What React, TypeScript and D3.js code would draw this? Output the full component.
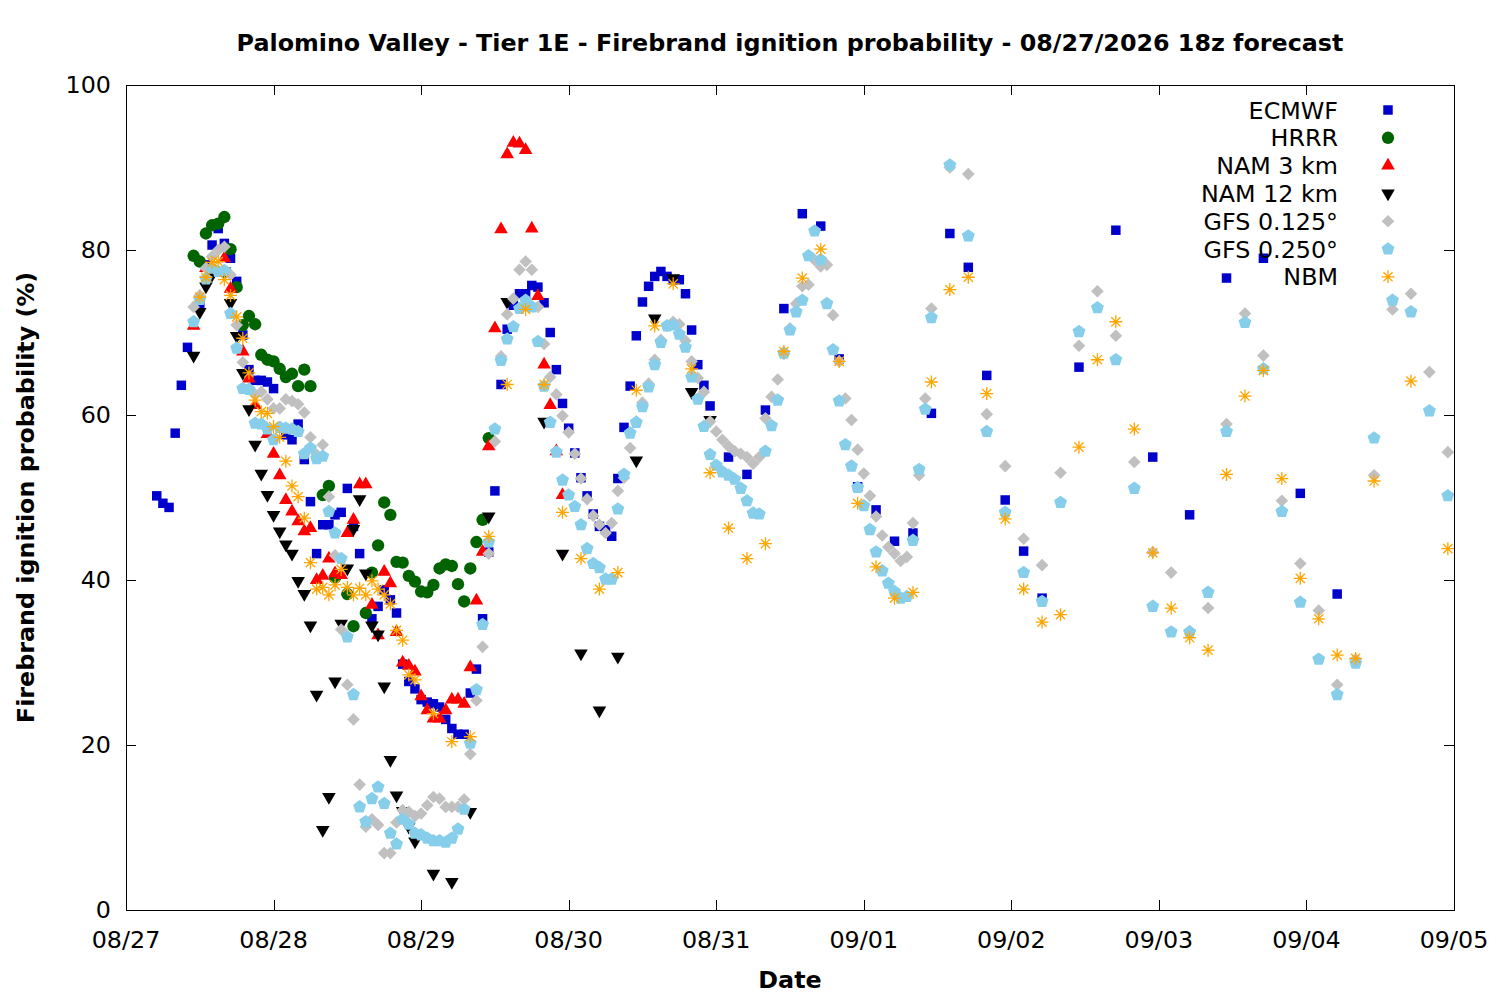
import { useEffect, useRef } from "react";
import * as d3 from "d3";

const title =
  "Palomino Valley - Tier 1E - Firebrand ignition probability - 08/27/2026 18z forecast";
const startDate = Date.UTC(2026, 7, 27);
const endDate = Date.UTC(2026, 8, 5);
const yTicks = [0, 20, 40, 60, 80, 100];

// hours after 08/27 00, values in %
const ecmwfHours = [...d3.range(5, 96), ...d3.range(98, 150, 3), ...d3.range(155, 198, 6)];
const ecmwfValues = [
  50.2, 49.3, 48.8, 57.8, 63.6, 68.2, null, 73.1, 78.2, 80.6, // h5
  82.6, 80.8, 79, 76.2, 69.7, 65.5, 64.2, 64.2, 64, 63.2, // h15
  null, 57.6, 57, 58.9, 54.6, 49.5, 43.2, 46.7, 46.7, 47.9, // h25
  48.2, 51.1, 46.5, 43.2, null, 35.3, 36.8, 38.8, 37.6, 36, // h35
  29.8, 27.7, 26.8, 25.5, 25.2, 25, 24.6, 23.1, 22, 21.3, // h45
  21.3, 26.3, 29.2, 35.3, 43.4, 50.8, 63.7, 70.4, 73.3, 74.7, // h55
  74.7, 75.7, 75.5, 73.6, 70, 65.5, 61.4, 58.4, 55.4, 52.4, // h65
  50.2, 48, 46.5, 46.1, 45.3, 52.3, 58.5, 63.5, 69.6, 73.7, // h75
  75.6, 76.8, 77.4, 76.8, 76.4, 76.4, 74.7, 70.3, 66.1, 63.6, // h85
  61.1, // h95
  54.9, 52.8, 60.6, 72.9, 84.4, 82.9, 66.8, 51.3, 48.5, 44.7,
  45.7, 60.2, 82, 77.9, 64.8, 49.7, 43.5, 37.8,
  65.8, 82.4, 54.9, 47.9, 76.6, 79, 50.5, 38.3,
];

const hrrrHours = d3.range(11, 60);
const hrrrValues = [
  79.3, 78.6, 82, 83, 83.2, 84, 80.1, 75.5, 70.9, 72, // h11
  71, 67.3, 66.7, 66.5, 65.6, 64.6, 65, 63.5, 65.5, 63.5, // h21
  null, 50.3, 51.4, 40.3, null, 38.3, 34.4, null, 36, 40.9, // h31
  44.2, 49.4, 47.9, 42.2, 42.1, 40.5, 39.8, 38.6, 38.5, 39.4, // h41
  41.4, 41.9, 41.7, 39.5, 37.4, 41.4, 44.6, 47.3, 57.2, // h51
];

const nam3Hours = d3.range(11, 72);
const nam3Values = [
  70.8, null, 77.8, null, null, 79, 75.3, null, 67.7, 64.4, // h11
  61.2, null, 57.7, 55.3, 52.7, 49.7, 48.3, 47.1, 45.9, 46.3, // h21
  40, 40.5, 42.6, 40.8, 40.6, 45.7, 47.3, 51.6, 51.6, 37, // h31
  33.3, 41, 39.6, 33.7, 30, 29.6, 28.9, 25.9, 24.2, 23.2, // h41
  23.2, 24.2, 25.5, 25.5, 25, 29.4, 37.5, 43.4, 56.2, 70.5, // h51
  82.5, 91.6, 93, 92.9, 92.1, 82.6, 74.4, 66.1, 61.2, 55.6, // h61
  50.3, // h71
];

const nam12Hours = [...d3.range(11, 48), ...d3.range(50, 96, 3)];
const nam12Values = [
  67.2, 72.5, 75.6, 77, null, 77.4, 73.6, 69.6, 65.1, 60.7, // h11
  56.4, 52.9, 50.3, 47.9, 45.9, 44.3, 43.2, 39.9, 38.3, 34.5, // h21
  26.1, 9.7, 13.7, 27.7, 34.7, 41.4, 46.2, 49.8, 40.8, 34.5, // h31
  33.4, 27.1, 18.2, 13.9, 12, 10.1, 8.3, // h41
  4.4, 3.4, 11.9, 47.7, 73.7, null, 59.2, 43.2, 31.1, 24.2,
  30.7, 54.5, 71.7, 76.6, 62.8, 59.4,
];

const gfs125Hours = [...d3.range(11, 132), ...d3.range(134, 216, 3)];
const gfs125Values = [
  73.1, 74.5, 77.8, 79.2, 80, 80.4, 77, 70.9, 66.4, 63.1, // h11
  62.5, 62.8, 61.9, 60.8, 60.8, 61.9, 61.7, 61.3, 60.3, 57.3, // h21
  55.2, 56.4, 50.1, 43, 34, 27.3, 23.1, 15.2, 10.1, 11, // h31
  10.3, 6.9, 6.9, 10.6, 12.1, 11.9, 11.4, 11.7, 12.7, 13.7, // h41
  13.5, 12.5, 12.5, 12.5, 13.4, 18.9, 25.4, 31.9, 43.2, 56.8, // h51
  67.1, 72.2, 74.1, 77.6, 78.6, 77.6, 73.1, 68.6, 64.6, 62.5, // h61
  59.9, 57.9, 55.3, 52.3, 49.8, 47.8, 46.7, 45.7, 46.9, 50.8, // h71
  52.4, 56, 59.2, 61.5, 63.8, 66.7, 69.1, 70.8, 71.3, 71, // h81
  69, 66.5, 64.5, 62.8, 59.2, 58, 57, 56.2, 55.6, 55.3, // h91
  54.9, 54.1, 54.9, 59.6, 62.2, 64.3, 67.4, 70.5, 73.5, 75.6, // h101
  75.8, 78.8, 78, 78.2, 72.1, 66.5, 62, 59.4, 55.8, 52.9, // h111
  50.2, 47.7, 45.4, 44, 43.2, 42.3, 42.8, 46.9, 52.7, 62, // h121
  72.9, // h131
  90, 89.2, 60.1, 53.8, 45, 41.8, 53, 68.4, 75, 69.6,
  54.3, 43.4, 40.9, 33.8, 36.6, 58.9, 72.3, 67.2, 49.6, 42,
  36.3, 27.3, 30.4, 52.7, 72.8, 74.7, 65.2, 55.5,
];

const gfs250Hours = [...d3.range(11, 132), ...d3.range(134, 216, 3)];
const gfs250Values = [
  71.3, 74, 76.5, 77.8, 77.4, 77.5, 72.3, 68.1, 63.2, 63.1, // h11
  59, 58.9, 58.3, 57, 58.5, 58.4, 58.3, 58, 55.3, 56, // h21
  54.7, 55, 48.3, 45.7, 42.6, 33.1, 26.1, 12.5, 10.7, 13.5, // h31
  14.9, 12.9, 9.3, 8, 11, 10.4, 9.3, 9.1, 8.7, 8.4, // h41
  8.4, 8.2, 8.7, 9.8, 12.2, 20.2, 26.7, 34.6, 44.6, 58.3, // h51
  66.6, 69.2, 70.7, 72.9, 73.9, 73.1, 68.9, 63.5, 59.1, 55.5, // h61
  52.1, 50.3, 48.9, 46.7, 43.8, 42, 41.5, 40.1, 40.1, 48.6, // h71
  52.8, 57.8, 59.1, 61, 63.4, 66.1, 68.8, 70.8, 70.9, 69.8, // h81
  68.2, 64.6, 61.9, 58.6, 55.2, 53.9, 53.1, 52.7, 52.2, 51.1, // h91
  49.6, 48.1, 48, 55.6, 58.7, 61.8, 67.5, 70.3, 72.5, 73.9, // h101
  79.3, 82.3, 78.8, 73.5, 67.9, 61.7, 56.4, 53.8, 51.2, 49, // h111
  46.1, 43.4, 41.1, 39.6, 38.6, 37.8, 38, 44.8, 53.4, 60.7, // h121
  71.8, // h131
  90.3, 81.7, 58, 48.2, 40.9, 37.4, 49.4, 70.1, 73, 66.7,
  51.1, 36.8, 33.7, 33.7, 38.5, 58, 71.2, 65.6, 48.3, 37.3,
  30.4, 26.1, 29.9, 57.2, 73.9, 72.5, 60.5, 50.2,
];

const nbmHours = [...d3.range(12, 48), ...d3.range(50, 204, 3), 209, 215];
const nbmValues = [
  74.3, 76.7, 78.5, 78.6, 76.4, 74.5, 71.9, 69.3, 65.1, 61.8, // h12
  60.4, 60.2, 58.6, 57.3, 54.4, 51.4, 50.1, 47.5, 42.1, 38.9, // h22
  39.1, 38.2, 39.4, 41.3, 39.1, 38.2, 39, 38.2, 39.9, 38.9, // h32
  38.2, 37.1, 33.9, 32.7, 28.5, 27.9, // h42
  23.8, 20.4, 21, 45.3, 63.7, 72.8, 63.7, 48.2, 42.6, 38.9,
  40.9, 63, 70.8, 75.9, 65.6, 53, 46.3, 42.6, 44.4, 67.7,
  76.6, 80.1, 66.5, 49.3, 41.6, 37.8, 38.5, 64, 75.2, 76.7,
  62.6, 47.4, 38.9, 34.9, 35.8, 56.1, 66.7, 71.3, 58.3, 43.3,
  36.6, 33, 31.5, 52.8, 62.3, 65.4, 52.3, 40.2, 35.3, 30.9,
  30.5, 52,
  64.1, 43.8,
];

const series = [
  { name: "ECMWF", hours: ecmwfHours, values: ecmwfValues, color: "#0000cd", shape: "square" },
  { name: "HRRR", hours: hrrrHours, values: hrrrValues, color: "#006400", shape: "circle" },
  { name: "NAM 3 km", hours: nam3Hours, values: nam3Values, color: "#ff0000", shape: "triUp" },
  { name: "NAM 12 km", hours: nam12Hours, values: nam12Values, color: "#000000", shape: "triDown" },
  { name: "GFS 0.125°", hours: gfs125Hours, values: gfs125Values, color: "#c0c0c0", shape: "diamond" },
  { name: "GFS 0.250°", hours: gfs250Hours, values: gfs250Values, color: "#87ceeb", shape: "pentagon" },
  { name: "NBM", hours: nbmHours, values: nbmValues, color: "#ffa500", shape: "asterisk" },
];

const W = 1500;
const H = 1000;
const margin = { left: 126, right: 46, top: 85, bottom: 90 };
const font = "DejaVu Sans, sans-serif";
const fontSize = 23.8;

function shapePath(shape: string): string {
  switch (shape) {
    case "square":
      return d3.symbol(d3.symbolSquare, 90)()!;
    case "circle":
      return d3.symbol(d3.symbolCircle, 120)()!;
    case "triUp":
    case "triDown":
      return d3.symbol(d3.symbolTriangle, 80)()!;
    case "diamond":
      return d3.symbol(d3.symbolSquare, 80)()!;
    case "pentagon": {
      const r = 6.8;
      const pts = d3.range(5).map((k) => {
        const a = -Math.PI / 2 + (k * 2 * Math.PI) / 5;
        return [r * Math.cos(a), r * Math.sin(a)];
      });
      return "M" + pts.map((p) => p.join(",")).join("L") + "Z";
    }
    default: {
      const r = 6.5;
      const a = r * Math.SQRT1_2;
      return `M${-r},0L${r},0M0,${-r}L0,${r}M${-a},${-a}L${a},${a}M${-a},${a}L${a},${-a}`;
    }
  }
}

function rotation(shape: string): number {
  if (shape === "triDown") return 180;
  if (shape === "diamond") return 45;
  return 0;
}

const App = () => {
  const svgRef = useRef<SVGSVGElement | null>(null);

  useEffect(() => {
    if (!svgRef.current) return;
    const svg = d3.select(svgRef.current);
    svg.selectAll("*").remove();

    const x = d3
      .scaleUtc()
      .domain([startDate, endDate])
      .range([margin.left, W - margin.right]);
    const y = d3
      .scaleLinear()
      .domain([0, 100])
      .range([H - margin.bottom, margin.top]);

    const x0 = margin.left;
    const x1 = W - margin.right;
    const y0 = H - margin.bottom;
    const y1 = margin.top;
    const tickLen = 10;

    svg.append("rect").attr("width", W).attr("height", H).attr("fill", "#fff");

    // ticks
    const dayTicks = d3.utcDay.range(new Date(startDate), new Date(endDate + 1));
    const fmt = d3.utcFormat("%m/%d");
    const axes = svg.append("g").attr("stroke", "#000").attr("stroke-width", 1);
    dayTicks.forEach((d) => {
      const xx = Math.round(x(d)) + 0.5;
      axes.append("line").attr("x1", xx).attr("x2", xx).attr("y1", y0).attr("y2", y0 - tickLen);
      axes.append("line").attr("x1", xx).attr("x2", xx).attr("y1", y1).attr("y2", y1 + tickLen);
    });
    yTicks.forEach((v) => {
      const yy = Math.round(y(v)) + 0.5;
      axes.append("line").attr("x1", x0).attr("x2", x0 + tickLen).attr("y1", yy).attr("y2", yy);
      axes.append("line").attr("x1", x1).attr("x2", x1 - tickLen).attr("y1", yy).attr("y2", yy);
    });

    svg
      .append("g")
      .selectAll("text")
      .data(dayTicks)
      .enter()
      .append("text")
      .attr("x", (d) => x(d))
      .attr("y", y0 + 38)
      .attr("text-anchor", "middle")
      .attr("font-family", font)
      .attr("font-size", fontSize)
      .text((d) => fmt(d));

    svg
      .append("g")
      .selectAll("text")
      .data(yTicks)
      .enter()
      .append("text")
      .attr("x", x0 - 15)
      .attr("y", (d) => y(d) + 8)
      .attr("text-anchor", "end")
      .attr("font-family", font)
      .attr("font-size", fontSize)
      .text((d) => d);

    // points, drawn in legend order
    series.forEach((s) => {
      const pts = s.hours
        .map((h, i) => ({ t: startDate + h * 3600 * 1000, v: s.values[i] }))
        .filter((p) => p.v !== null && p.v !== undefined);
      const path = shapePath(s.shape);
      const rot = rotation(s.shape);
      const isLine = s.shape === "asterisk";
      svg
        .append("g")
        .selectAll("path")
        .data(pts)
        .enter()
        .append("path")
        .attr("d", path)
        .attr("transform", (p) => `translate(${x(p.t)},${y(p.v as number)}) rotate(${rot})`)
        .attr("fill", isLine ? "none" : s.color)
        .attr("stroke", isLine ? s.color : "none")
        .attr("stroke-width", isLine ? 1.3 : 0);
    });

    // frame
    svg
      .append("rect")
      .attr("x", x0 + 0.5)
      .attr("y", y1 + 0.5)
      .attr("width", x1 - x0)
      .attr("height", y0 - y1)
      .attr("fill", "none")
      .attr("stroke", "#000")
      .attr("stroke-width", 1);

    // legend
    const legend = svg.append("g");
    series.forEach((s, i) => {
      const ly = 110 + i * 27.8;
      legend
        .append("text")
        .attr("x", 1338)
        .attr("y", ly + 8.5)
        .attr("text-anchor", "end")
        .attr("font-family", font)
        .attr("font-size", fontSize)
        .text(s.name);
      const isLine = s.shape === "asterisk";
      legend
        .append("path")
        .attr("d", shapePath(s.shape))
        .attr("transform", `translate(1388,${ly}) rotate(${rotation(s.shape)})`)
        .attr("fill", isLine ? "none" : s.color)
        .attr("stroke", isLine ? s.color : "none")
        .attr("stroke-width", isLine ? 1.3 : 0);
    });

    // titles
    svg
      .append("text")
      .attr("x", (x0 + x1) / 2)
      .attr("y", 51)
      .attr("text-anchor", "middle")
      .attr("font-family", font)
      .attr("font-weight", "bold")
      .attr("font-size", fontSize)
      .text(title);

    svg
      .append("text")
      .attr("x", (x0 + x1) / 2)
      .attr("y", 988)
      .attr("text-anchor", "middle")
      .attr("font-family", font)
      .attr("font-weight", "bold")
      .attr("font-size", fontSize)
      .text("Date");

    svg
      .append("text")
      .attr("transform", `translate(34,${(y0 + y1) / 2}) rotate(-90)`)
      .attr("text-anchor", "middle")
      .attr("font-family", font)
      .attr("font-weight", "bold")
      .attr("font-size", fontSize)
      .text("Firebrand ignition probability (%)");
  }, []);

  return (
    <svg
      ref={svgRef}
      width={W}
      height={H}
      style={{ position: "absolute", left: 0, top: 0 }}
    ></svg>
  );
};

export default App;
